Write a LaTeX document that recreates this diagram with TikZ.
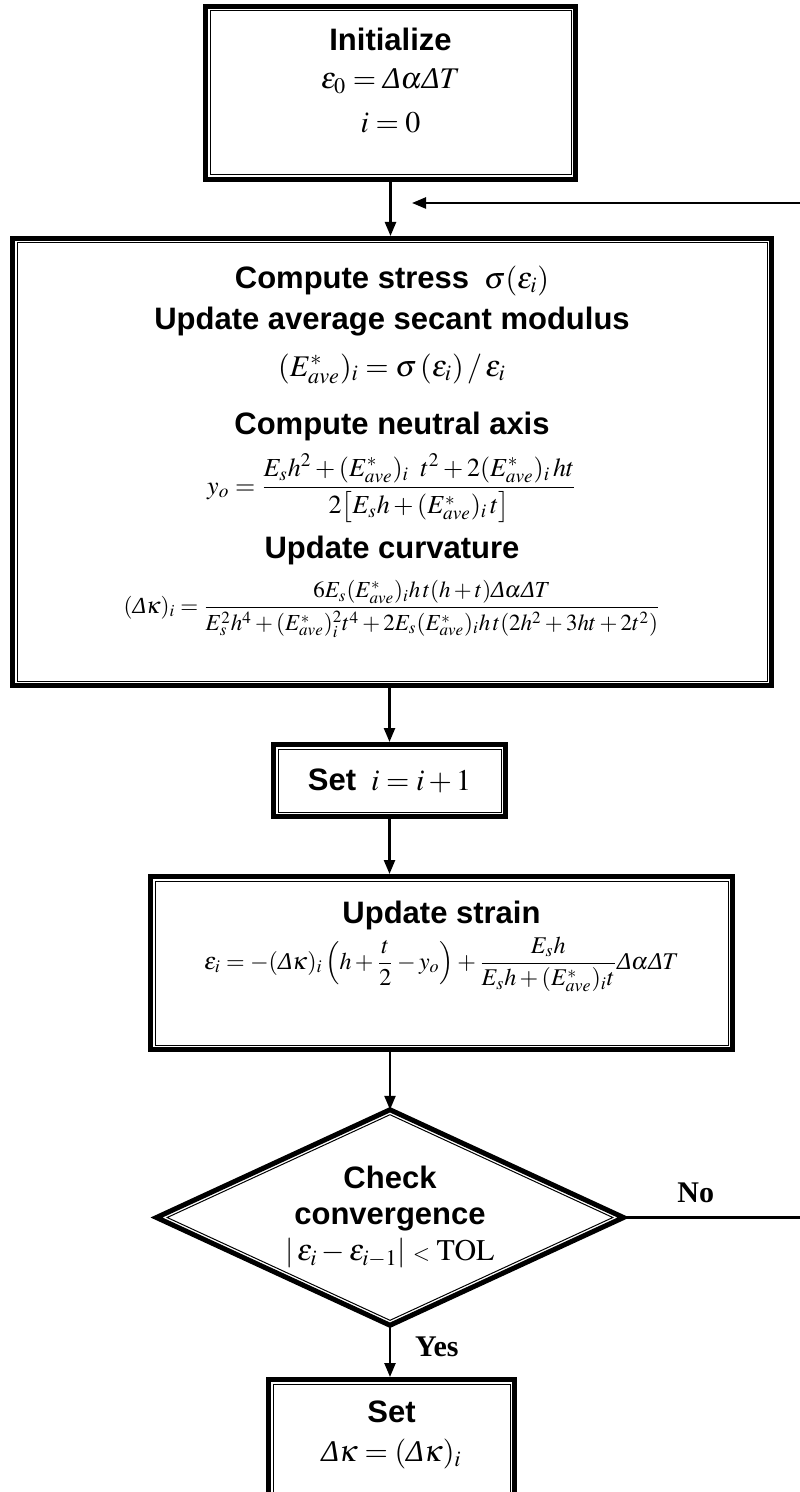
\documentclass[tikz,border=0pt]{standalone}
\usepackage{amsmath}
\usepackage{mathptmx}
\usepackage[no-math]{fontspec}
\setmainfont{Liberation Serif}
\newfontfamily\hdfont{Liberation Sans}
\usetikzlibrary{shapes.geometric,arrows.meta,calc}

\newcommand{\hd}[1]{{\hdfont\bfseries\fontsize{15.5}{18}\selectfont #1}}
\newcommand{\dlt}{\mbox{\itshape Δ}}
\newcommand{\Eave}{E^{*}_{ave}}
\newcommand{\boxbody}[3]{\begin{minipage}[c][#2][t]{#1}\centering\lineskiplimit=-100pt #3\end{minipage}}

\tikzset{
  dblbox/.style={draw, line width=2.5pt, inner sep=0pt, outer sep=1.25pt, font=\fontsize{15}{18}\selectfont},
  decision/.style={diamond, draw, line width=2.5pt, inner sep=0pt, outer sep=0pt, align=center,
    shape aspect=2.167, minimum width=233.5pt, minimum height=107.75pt, font=\fontsize{15}{18}\selectfont},
  innerline/.style={line width=0.5pt},
  flowline/.style={line width=1.2pt, -{Triangle[length=7pt,width=5.5pt]}},
  ans/.style={font=\fontsize{15}{18}\selectfont\bfseries, inner sep=2pt}
}

\begin{document}
\begin{tikzpicture}[x=0.5pt,y=-0.5pt]
\useasboundingbox (0,0) rectangle (799,1492);

% boxes
\node[dblbox] (init) at (390.5,93) {\boxbody{185pt}{86.5pt}{\vspace*{10.8pt}\hd{Initialize}\\[1pt]
  $\varepsilon_0=\dlt\alpha\dlt T$\\[4pt] $i=0$}};
\node[dblbox] (upd) at (392,462) {\boxbody{379.5pt}{223.5pt}{\vspace*{13.5pt}\hd{Compute stress}~~$\sigma(\varepsilon_i)$\\[2.5pt]
  \hd{Update average secant modulus}\\[5.5pt]
  $(\Eave)_i=\sigma\,(\varepsilon_i)\,/\,\varepsilon_i$\\[11pt]
  \hd{Compute neutral axis}\\[12pt]
  {\fontsize{13}{15}\selectfont $y_o=\dfrac{E_sh^2+(\Eave)_i\;\;t^2+2(\Eave)_i\,ht}{2\bigl[E_sh+(\Eave)_i\,t\bigr]}$}\\[14pt]
  \hd{Update curvature}\\[9.75pt]
  {\fontsize{11.5}{13}\selectfont $(\dlt\kappa)_i=\dfrac{6E_s(\Eave)_ih\,t(h+t)\dlt\alpha\dlt T}{E_s^2h^4+(\Eave)_i^{2}t^4+2E_s(\Eave)_ih\,t(2h^2+3ht+2t^2)}$}}};
\node[dblbox, minimum width=116pt, minimum height=36pt] (seti) at (389.5,780.5) {\hd{Set}~~$i=i+1$};
\node[dblbox] (strain) at (441.5,963) {\boxbody{291pt}{86.5pt}{\vspace*{12.2pt}\hd{Update strain}\\[5pt]
  {\fontsize{12}{14}\selectfont $\varepsilon_i=-(\dlt\kappa)_i\left(h+\dfrac{t}{2}-y_o\right)+\dfrac{E_sh}{E_sh+(\Eave)_it}\dlt\alpha\dlt T$}}};
\node[decision] (chk) at (390,1217.5) {\hd{Check}\\\hd{convergence}\\
  $|\,\varepsilon_i-\varepsilon_{i-1}|\mathrel{\scriptstyle<}\mathrm{TOL}$};
\node[dblbox] (setk) at (391.5,1469.75) {\boxbody{123pt}{90.25pt}{\vspace*{10.8pt}\hd{Set}\\[1.5pt]
  $\dlt\kappa=(\dlt\kappa)_i$}};

% inner lines of the double frames
\foreach \n in {init,upd,seti,strain,setk}
  \draw[innerline] ([shift={(7,7)}]\n.north west) rectangle ([shift={(-7,-7)}]\n.south east);
\draw[innerline] ($(chk.center)+(0,-102.8)$) -- ($(chk.center)+(222.8,0)$) -- ($(chk.center)+(0,102.8)$)
  -- ($(chk.center)+(-222.8,0)$) -- cycle;

% connectors
\coordinate (ret) at (412,203);
\coordinate (loopR) at (804,203);
\draw[flowline] (init.south) -- (init.south |- upd.north);
\draw[flowline] (seti.north |- upd.south) -- (seti.north);
\draw[flowline] (seti.south) -- (seti.south |- strain.north);
\draw[flowline] (chk.north |- strain.south) -- (chk.north);
\draw[flowline] (chk.south) -- node[ans, right=10pt, pos=0.42] {Yes} (chk.south |- setk.north);
\draw[flowline] (chk.east) -- node[ans, above=5pt, pos=0.4] {No} (loopR |- chk.east) -- (loopR |- ret) -- (ret);
\end{tikzpicture}
\end{document}
